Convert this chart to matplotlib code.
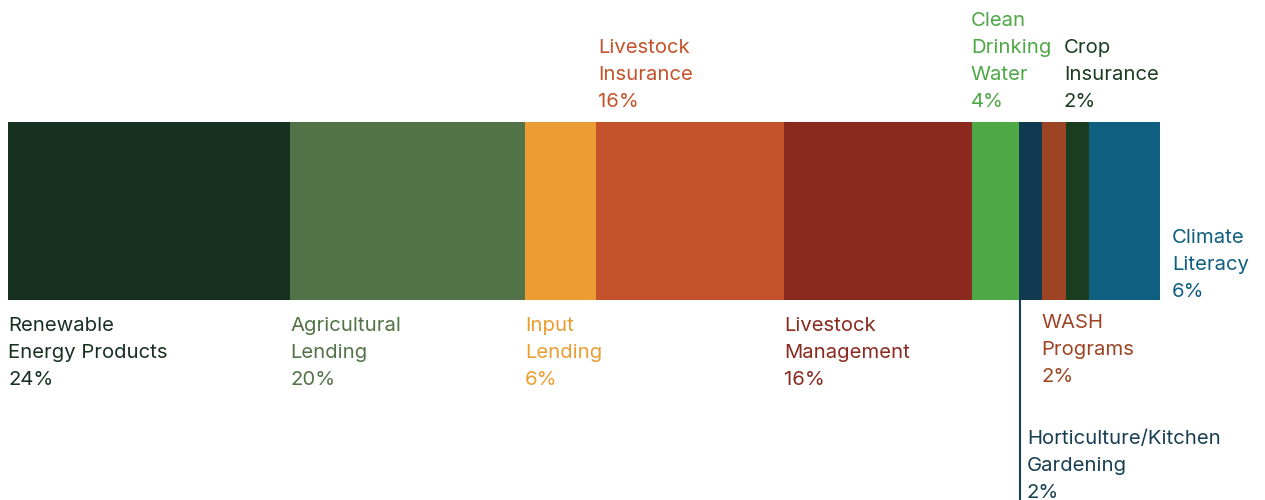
import matplotlib
matplotlib.use("Agg")
import matplotlib.pyplot as plt
import numpy as np

categories = ["Renewable\nEnergy Products", "Agricultural\nLending", "Input\nLending",
              "Livestock\nInsurance", "Livestock\nManagement", "Clean\nDrinking\nWater",
              "Horticulture/Kitchen\nGardening", "WASH\nPrograms", "Crop\nInsurance",
              "Climate\nLiteracy"]
values = [24, 20, 6, 16, 16, 4, 2, 2, 2, 6]
colors = ["#163120", "#527347", "#eb9d33", "#c4522a", "#8a2a1f", "#4ea846",
          "#0f3a4f", "#9c4424", "#1b3d1f", "#0f5f80"]
text_colors = ["#173020", "#527347", "#eb9d33", "#c4522a", "#8a2a1f", "#4ea846",
               "#173f52", "#9c4424", "#1b3d1f", "#0f5f80"]

plt.rcParams['font.family'] = ['Inter', 'DejaVu Sans']

W, H = 1265, 500
fig = plt.figure(figsize=(W / 100, H / 100), dpi=100)
total = sum(values)
ax = fig.add_axes([8 / W, 0, 1152 / W, 1])
ax.set_xlim(0, total)
ax.set_ylim(H, 0)
ax.axis("off")

starts = np.concatenate([[0], np.cumsum(values)[:-1]])
bar_top, bar_bot = 122, 300
ax.barh((bar_top + bar_bot) / 2, values, left=starts, height=bar_bot - bar_top,
        color=colors, linewidth=0)

px = total / 1152.0  # data units per pixel
LS = 27
FS = 14.6

def label(i, x, y_first, above=False):
    lines = categories[i].split("\n") + [f"{values[i]}%"]
    n = len(lines)
    for k, ln in enumerate(lines):
        if above:
            y = y_first - (n - 1 - k) * LS
        else:
            y = y_first + k * LS
        ax.text(x, y, ln, color=text_colors[i], fontsize=FS, va="center",
                ha="left", clip_on=False)

# below-bar labels
for i in [0, 1, 2, 4]:
    label(i, starts[i], 326)
# above-bar labels
label(3, starts[3] + 2 * px, 102, above=True)
label(5, starts[5] - 1 * px, 102, above=True)
label(8, starts[8] - 2 * px, 102, above=True)
# right label
label(9, total + 12 * px, 292, above=True)
# WASH
label(7, starts[7] - 1 * px, 323)
# Horticulture with leader line
x_line = starts[6] + 1 * px
ax.plot([x_line, x_line], [bar_bot, H], color="#173f52", linewidth=1.5,
        clip_on=False, solid_capstyle="butt")
label(6, starts[6] + 8 * px, 439)

fig.savefig("out.png", dpi=100)
